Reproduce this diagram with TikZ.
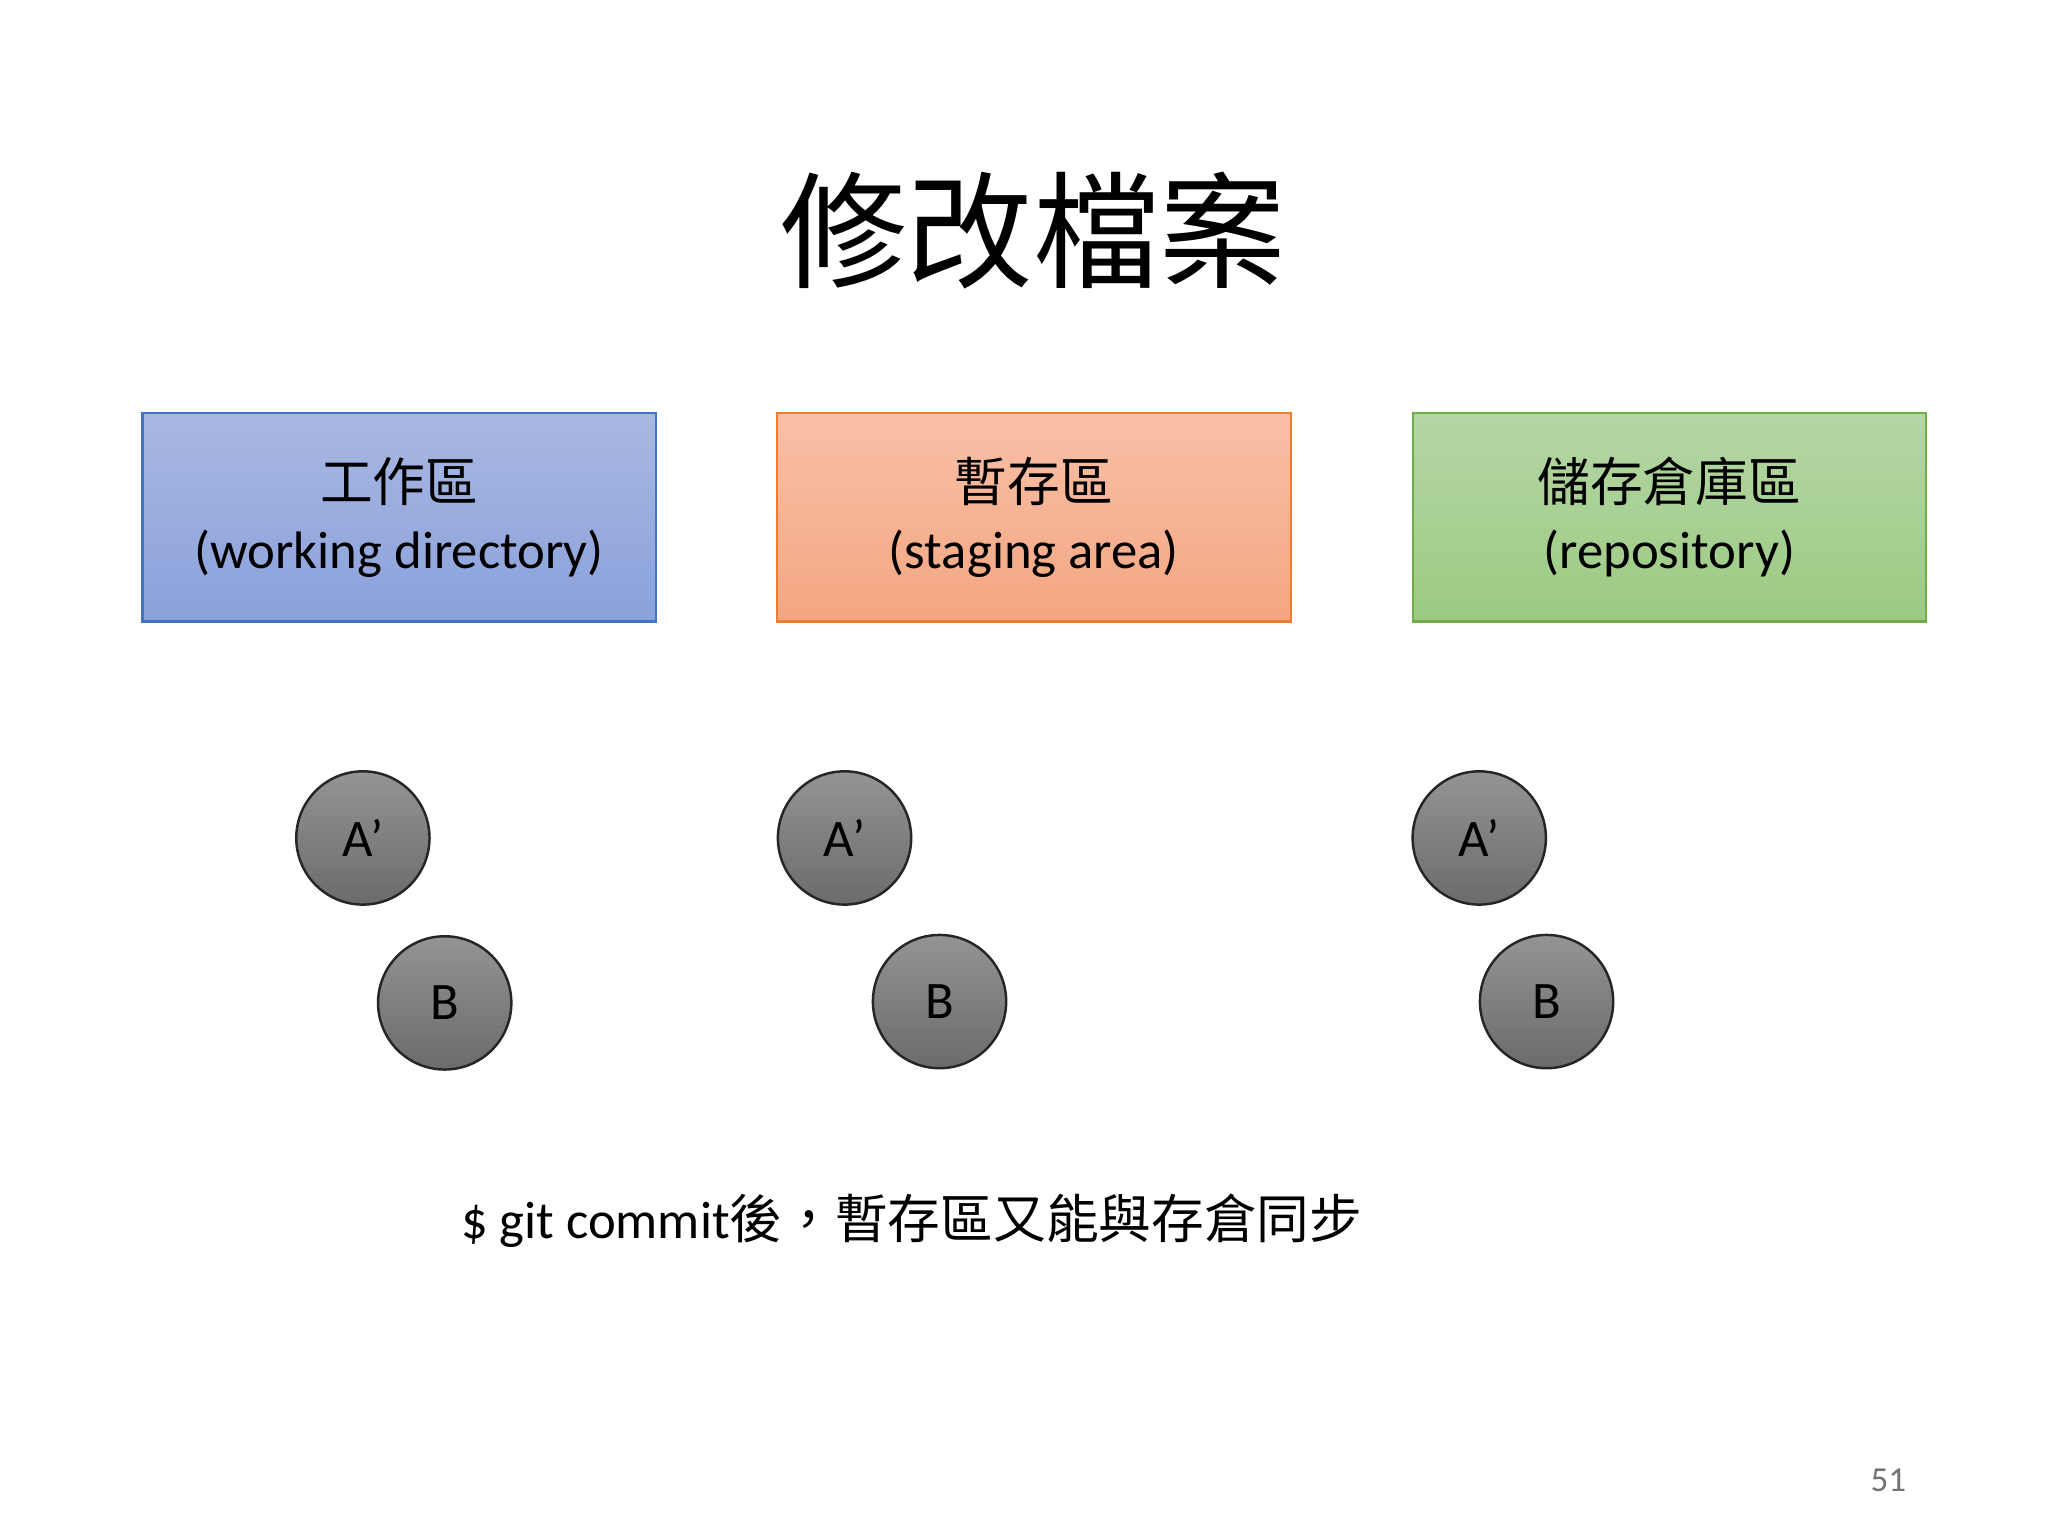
\documentclass[tikz,border=0pt]{standalone}
\usepackage{fontspec}
\setmainfont{Carlito}
\newfontfamily\cjk{Noto Sans CJK TC}
\definecolor{bt}{HTML}{A9B8E2}\definecolor{bb}{HTML}{8AA1DB}\definecolor{bd}{HTML}{4472C4}
\definecolor{ot}{HTML}{F8C0A8}\definecolor{ob}{HTML}{F4A680}\definecolor{od}{HTML}{ED7D31}
\definecolor{gt}{HTML}{B4D6A5}\definecolor{gb}{HTML}{9CCA82}\definecolor{gd}{HTML}{70AD47}
\begin{document}
\begin{tikzpicture}[x=0.0132cm,y=-0.0132cm,
  area/.style={draw, line width=0.6pt, minimum width=389*0.0132cm, minimum height=158*0.0132cm, align=center, font=\fontsize{15pt}{19pt}\selectfont},
  file/.style={circle, draw=black!85, line width=0.7pt, top color=black!42, bottom color=black!58, minimum size=101*0.0132cm, inner sep=0pt, font=\fontsize{15pt}{18pt}\selectfont}]
\useasboundingbox (0,0) rectangle (1552,1164);
\fill[white] (0,0) rectangle (1552,1164);
\node (title) at (783,175) {\cjk\fontsize{36pt}{40pt}\selectfont 修改檔案};
\node[area, draw=bd, top color=bt, bottom color=bb] (wd) at (302.5,392) {{\cjk 工作區}\\(working directory)};
\node[area, draw=od, top color=ot, bottom color=ob] (sa) at (783.5,392) {{\cjk 暫存區}\\(staging area)};
\node[area, draw=gd, top color=gt, bottom color=gb] (rp) at (1265,392) {{\cjk 儲存倉庫區}\\(repository)};
\node[file] (a1) at (275,635) {A’};
\node[file] (b1) at (337,760) {B};
\node[file] (a2) at (640,635) {A’};
\node[file] (b2) at (712,759) {B};
\node[file] (a3) at (1121,635) {A’};
\node[file] (b3) at (1172,759) {B};
\node[anchor=west, font=\fontsize{15pt}{18pt}\selectfont] (cmd) at (340,925) {\$ git commit{\cjk 後，暫存區又能與存倉同步}};
\node[text=black!55, font=\fontsize{10pt}{12pt}\selectfont] (pg) at (1431,1122) {51};
\end{tikzpicture}
\end{document}
